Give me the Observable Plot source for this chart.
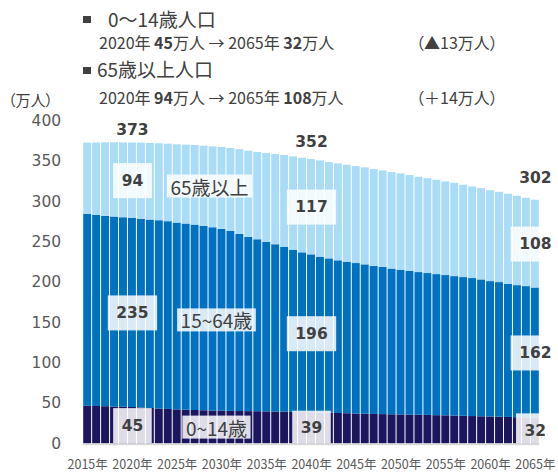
<!DOCTYPE html>
<html><head><meta charset="utf-8">
<script src="https://cdn.jsdelivr.net/npm/d3@7"></script>
<script src="https://cdn.jsdelivr.net/npm/@observablehq/plot@0.6"></script>
<style>
body{margin:0;background:#fff;}
#wrap{position:relative;width:558px;height:472px;overflow:hidden;font-family:"Noto Sans CJK JP",sans-serif;color:#404040;}
#head{position:relative;height:108px;}
.t{position:absolute;white-space:nowrap;font-size:16px;line-height:1;}
.h{font-size:19px;}
.p{font-feature-settings:"palt";}
.u{font-size:15px;font-feature-settings:"palt";}
.sq{position:absolute;width:7.5px;height:7.5px;background:#404040;}
.t b{font-weight:700;}
#chart svg{display:block;overflow:visible;}
</style></head><body>
<div id="wrap"><div id="head"></div><div id="chart"></div></div>
<script>
// ---- data ----
const years = [2015,2016,2017,2018,2019,2020,2021,2022,2023,2024,2025,2026,2027,2028,2029,2030,2031,2032,2033,2034,2035,2036,2037,2038,2039,2040,2041,2042,2043,2044,2045,2046,2047,2048,2049,2050,2051,2052,2053,2054,2055,2056,2057,2058,2059,2060,2061,2062,2063,2064,2065];
const age0_14 = [46.5,46.3,46.0,45.6,45.3,45.0,44.4,43.8,43.2,42.6,42.1,41.7,41.3,41.0,40.7,40.4,40.2,40.0,39.9,39.8,39.6,39.4,39.2,39.0,38.8,38.6,38.3,38.0,37.6,37.3,37.0,36.7,36.4,36.2,36.0,35.8,35.6,35.4,35.2,34.9,34.7,34.4,34.1,33.8,33.5,33.3,33.0,32.7,32.4,32.2,32.0];
const age15_64 = [238.0,236.9,236.0,235.6,235.0,234.5,233.9,233.6,233.4,232.8,231.6,230.8,229.9,228.6,227.2,225.4,223.1,219.5,216.0,213.2,210.1,207.4,204.2,201.1,198.0,195.7,193.1,191.3,189.3,187.9,186.5,185.2,183.4,182.4,180.7,179.4,178.4,176.9,175.9,174.9,173.9,172.9,172.0,171.1,169.7,167.8,166.9,165.1,163.7,162.7,161.2];
const age65plus = [88.3,89.8,91.2,92.0,92.8,93.5,94.5,95.0,95.4,96.1,97.0,97.8,98.7,99.4,100.3,101.6,102.9,105.2,106.9,108.2,110.2,111.9,114.1,115.7,117.3,118.2,119.4,119.4,120.2,120.2,120.2,120.2,120.2,119.8,119.6,119.5,118.6,118.2,117.7,117.0,116.1,115.7,114.5,113.6,113.2,112.8,111.9,111.6,110.8,109.5,108.8];
const groups = ["0~14歳","15~64歳","65歳以上"];
const groupColors = ["#1c165f","#0070c0","#aadcf8"];
const labelYears = [2020,2040,2065];
const label0_14 = [45,39,32];
const label15_64 = [235,196,162];
const label65plus = [94,117,108];
const totalLabels = [373,352,302];
const xTickYears = [2015,2020,2025,2030,2035,2040,2045,2050,2055,2060,2065];
const yTicks = [0,50,100,150,200,250,300,350,400];
const groupLabelYear = 2030;
const unitLabel = "（万人）";

// ---- header ----
const head = document.getElementById("head");
const d0 = label0_14[0]-label0_14[2];
const d65 = label65plus[2]-label65plus[0];
head.innerHTML = `
<span class="sq" style="left:83px;top:15.5px"></span>
<div class="t h" style="left:108px;top:9.4px">0～14歳人口</div>
<div class="t" style="left:99px;top:34.1px">${labelYears[0]}年 <b>${label0_14[0]}</b>万人 → ${labelYears[2]}年 <b>${label0_14[2]}</b>万人</div>
<div class="t p" style="left:416px;top:34.1px">（▲${d0}万人）</div>
<span class="sq" style="left:83px;top:66.5px"></span>
<div class="t h" style="left:97px;top:59.4px">65歳以上人口</div>
<div class="t" style="left:99px;top:88.6px">${labelYears[0]}年 <b>${label65plus[0]}</b>万人 → ${labelYears[2]}年 <b>${label65plus[2]}</b>万人</div>
<div class="t p" style="left:416px;top:88.6px">（＋${d65}万人）</div>
<div class="t u" style="left:8px;top:91.6px">${unitLabel}</div>`;

// ---- tidy rows ----
const series = [age0_14, age15_64, age65plus];
const rows = [];
years.forEach((yr,i) => groups.forEach((g,k) => rows.push({year: yr, group: g, value: series[k][i]})));
const labelSeries = [label0_14, label15_64, label65plus];
const labelRows = [];
labelYears.forEach((yr,j) => {
  const i = years.indexOf(yr);
  groups.forEach((g,k) => labelRows.push({year: yr, group: g, value: series[k][i], label: String(labelSeries[k][j])}));
});
const totalRows = labelYears.map((yr,j) => {
  const i = years.indexOf(yr);
  return {year: yr, total: series.reduce((s,a) => s + a[i], 0), label: String(totalLabels[j])};
});
const gi = years.indexOf(groupLabelYear);
const groupRows = groups.map((g,k) => {
  const below = series.slice(0,k).reduce((s,a) => s + a[gi], 0);
  return {year: groupLabelYear, group: g, mid: below + series[k][gi]/2};
});

const totalDy = [-12.5,-17,-22.5];
const groupOffsets = [[-5.5,2],[-5.5,2],[-12.5,0]];

const W = 558, H = 364, ML = 82.7, MR = 18.7, MT = 12.7, MB = 28.7;

const plot = Plot.plot({
  width: W, height: H,
  marginLeft: ML, marginRight: MR, marginTop: MT, marginBottom: MB,
  style: {background: "transparent", color: "#595959", overflow: "visible"},
  x: {type: "band", domain: years, padding: 0},
  y: {domain: [0,400]},
  color: {domain: groups, range: groupColors},
  marks: [
    Plot.barY(rows, {x: "year", y: "value", fill: "group", insetLeft: 0.5, insetRight: 0.5}),
    Plot.ruleY([0], {stroke: "#d9d9d9", strokeWidth: 1.5, dy: 0.75}),
    Plot.axisY({ticks: yTicks, tickSize: 0, tickPadding: 22, label: null, fontSize: 15.5, fontFamily: "DejaVu Sans", fill: "#595959"}),
    Plot.axisX({ticks: xTickYears, tickFormat: d => `${d}年`, tickSize: 0, tickPadding: 16, label: null, fontSize: 12.5, fontFamily: "Noto Sans CJK JP", fill: "#595959"}),
    Plot.text(labelRows, Plot.stackY({x: "year", y: "value", z: "group", text: "label", fontWeight: "bold", fontSize: 15.5, fontFamily: "DejaVu Sans", fill: "#404040"})),
    ...totalRows.map((r,j) => Plot.text([r], {x: "year", y: "total", text: "label", dy: totalDy[j], fontWeight: "bold", fontSize: 15.5, fontFamily: "DejaVu Sans", fill: "#404040"})),
    ...groupRows.map((r,k) => Plot.text([r], {x: "year", y: "mid", text: "group", dx: groupOffsets[k][0], dy: groupOffsets[k][1], fontSize: 19, fontFamily: "Noto Sans CJK JP", fill: "#404040"}))
  ]
});
document.getElementById("chart").appendChild(plot);

// white label boxes behind value labels (first text mark) and group labels (last three)
const NS = "http://www.w3.org/2000/svg";
const sx = plot.scale("x"), sy = plot.scale("y");
const plotRight = sx.apply(years[years.length-1]) + sx.bandwidth;
const plotBottom = sy.apply(0);
const svgRect = plot.getBoundingClientRect();
const textGroups = Array.from(plot.querySelectorAll('g[aria-label="text"]'));
function addBoxes(g, padX, h) {
  const layer = document.createElementNS(NS, "g");
  g.querySelectorAll("text").forEach(t => {
    const b = t.getBoundingClientRect();
    const cx1 = b.left - svgRect.left, cx2 = b.right - svgRect.left;
    const cy = (b.top + b.bottom)/2 - svgRect.top;
    let x1 = cx1 - padX, x2 = Math.min(cx2 + padX, plotRight);
    const y1 = cy - h/2, y2 = Math.min(cy + h/2, plotBottom);
    const r = document.createElementNS(NS, "rect");
    r.setAttribute("x", x1); r.setAttribute("y", y1);
    r.setAttribute("width", Math.max(0, x2 - x1)); r.setAttribute("height", Math.max(0, y2 - y1));
    r.setAttribute("fill", "#ffffff"); r.setAttribute("fill-opacity", "0.85");
    layer.appendChild(r);
  });
  g.parentNode.insertBefore(layer, g);
}
if (textGroups.length) {
  addBoxes(textGroups[0], 8.5, 35);
  textGroups.slice(-3).forEach(g => addBoxes(g, 3.5, 23));
}
</script>
</body></html>
